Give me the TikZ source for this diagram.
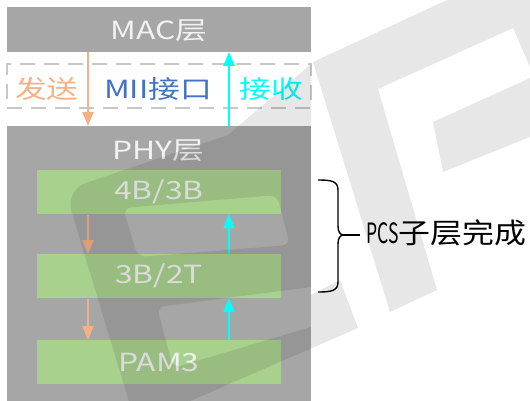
\documentclass[tikz,border=0pt]{standalone}
\usepackage{fontspec}
\setmainfont{Noto Sans CJK SC}
\usetikzlibrary{arrows.meta}
\definecolor{boxgray}{HTML}{A6A6A6}
\definecolor{grn}{HTML}{A9D18E}
\definecolor{txtw}{HTML}{F2F2F2}
\definecolor{org}{HTML}{F4B183}
\definecolor{blu}{HTML}{4472C4}
\definecolor{cyn}{HTML}{00FFFF}
\definecolor{dsh}{HTML}{C8C8C8}
\newcommand{\wide}[1]{\scalebox{1.27}[1]{#1}}
\begin{document}
\begin{tikzpicture}[x=1pt,y=-1pt,
  layer/.style={fill=boxgray, draw=none, inner sep=0pt, outer sep=0pt, minimum width=304pt},
  enc/.style={fill=grn, draw=none, inner sep=0pt, outer sep=0pt, minimum width=244pt, minimum height=44pt},
  lbl/.style={inner sep=0pt, font=\fontsize{25}{30}\selectfont},
  txarrow/.style={draw=org, line width=2.5pt, -{Triangle[length=14pt,width=11pt]}},
  rxarrow/.style={draw=cyn, line width=2.5pt, -{Triangle[length=14pt,width=11pt]}},
  wm/.style={fill=black, fill opacity=0.095, draw=none}]
\useasboundingbox (0,0) rectangle (530,401);
\fill[white] (0,0) rectangle (530,401);
% layers
\node[layer, minimum height=45pt] (mac) at (159,29.5) {};
\node[lbl, text=txtw] (maclbl) at (159,31) {\wide{MAC层}};
\node[layer, minimum height=280pt] (phy) at (159,266) {};
\node[lbl, text=txtw] (phylbl) at (158,151) {\wide{PHY层}};
\node[draw=dsh, line width=1.5pt, dash pattern=on 15pt off 9pt, minimum width=304pt, minimum height=44pt, inner sep=0pt] (miibox) at (159,86) {};
\node[lbl, text=org] (send) at (47,89) {\wide{发送}};
\node[lbl, text=blu] (mii) at (158,89) {\wide{MII接口}};
\node[lbl, text=cyn] (recv) at (271,89) {\wide{接收}};
% encoders
\node[enc] (e1) at (159,192) {};
\node[enc] (e2) at (159,276) {};
\node[enc] (e3) at (159,362) {};
\node[lbl, text=txtw] (l1) at (e1) {\wide{4B/3B}};
\node[lbl, text=txtw] (l2) at (e2) {\wide{3B/2T}};
\node[lbl, text=txtw] (l3) at (e3) {\wide{PAM3}};
% arrows
\coordinate (txx) at (88,0);
\coordinate (rxx) at (229,0);
\draw[txarrow] (mac.south -| txx) -- (phy.north -| txx);
\draw[rxarrow] (phy.north -| rxx) -- (mac.south -| rxx);
\draw[txarrow, line width=2pt] ([yshift=-1pt]e1.south -| txx) -- (e2.north -| txx);
\draw[txarrow, line width=2pt] ([yshift=-1pt]e2.south -| txx) -- (e3.north -| txx);
\draw[rxarrow, line width=2pt] (e2.north -| rxx) -- (e1.south -| rxx);
\draw[rxarrow, line width=2pt] (e3.north -| rxx) -- (e2.south -| rxx);
% brace
\coordinate (btop) at (318,180);
\coordinate (bbot) at (318,292);
\coordinate (btip) at (344,235);
\draw[line width=1.4pt] (btop) .. controls (331,180) and (338,181) .. (338,190) -- (338,226) .. controls (338,232) and (340,235) .. (btip)
  .. controls (340,235) and (338,238) .. (338,244) -- (338,282) .. controls (338,291) and (331,292) .. (bbot);
\node[inner sep=0pt, anchor=west, font=\fontsize{28}{32}\selectfont] (pcs) at (366,233) {\scalebox{1.14}[1]{\scalebox{0.55}[1]{PCS}子层完成}};
\draw[line width=1.4pt, shorten >=6pt] (btip) -- (pcs.west |- btip);
% watermark
\fill[wm] (313,62) -- (447,0) -- (530,0) -- (530,67) -- (513,28) -- (378,89) -- (437,290) -- (390,312) -- cycle;
\fill[wm] (433,122) -- (530,78) -- (530,137) -- (443,172) -- cycle;
\fill[wm, even odd rule]
  (130,405) [rounded corners=22pt] -- (65,190) [sharp corners] -- (228,135) -- (311,64) -- (311,295) -- (340,280) -- (358,328) -- (181,405) -- cycle
  [rounded corners=8pt] (123,208) -- (277,195) -- (290,245) -- (138,257) -- cycle
  [rounded corners=8pt] (311,287) -- (157,307) -- (173,368) [sharp corners] -- (311,327) -- cycle;
\end{tikzpicture}
\end{document}
